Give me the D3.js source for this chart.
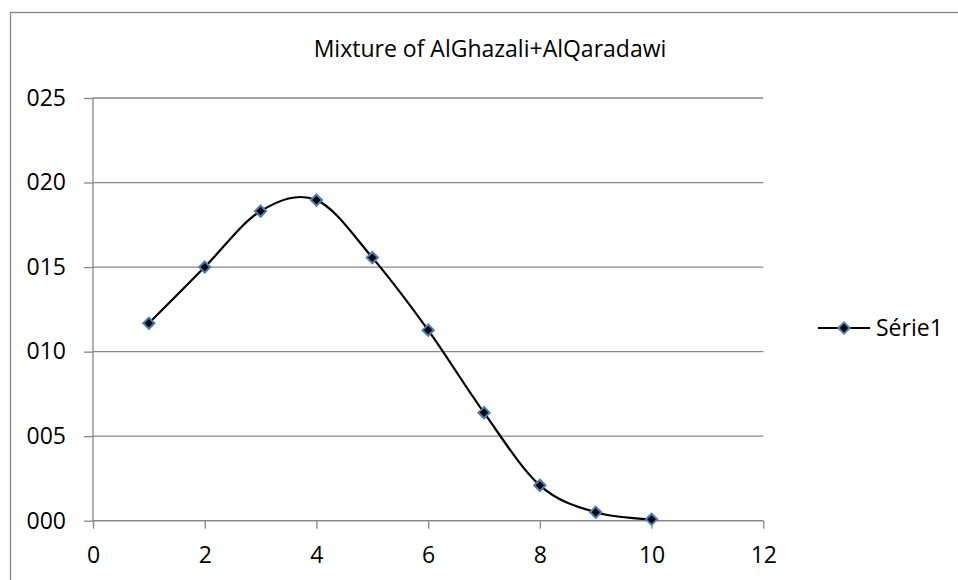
<!DOCTYPE html>
<html>
<head>
<meta charset="utf-8">
<script src="https://cdn.jsdelivr.net/npm/d3@7"></script>
<style>
  body { margin: 0; background: #fff; }
  svg { display: block; }
  text { font-family: "Open Sans", "Noto Sans", sans-serif; fill: #000; }
</style>
</head>
<body>
<svg id="chart"></svg>
<script>
const title = "Mixture of AlGhazali+AlQaradawi";
const seriesName = "Série1";
const xValues = [1, 2, 3, 4, 5, 6, 7, 8, 9, 10];
const yValues = [11.68, 15.0, 18.31, 18.96, 15.56, 11.27, 6.39, 2.09, 0.5, 0.08];
const xTicks = [0, 2, 4, 6, 8, 10, 12];
const yTicks = [0, 5, 10, 15, 20, 25];

const width = 958;
const height = 580;
const plotLeft = 93;
const plotRight = 763.3;
const plotTop = 98;
const plotBottom = 520.7;
const gray = "#868686";
const fontSize = "23px";

const svg = d3.select("#chart")
  .attr("width", width)
  .attr("height", height);

const data = xValues.map((x, i) => ({ x: x, y: yValues[i] }));

const xScale = d3.scaleLinear().domain([0, 12]).range([plotLeft, plotRight]);
const yScale = d3.scaleLinear().domain([0, 25]).range([plotBottom, plotTop]);

// outer chart border (right and bottom sides fall outside the picture)
svg.append("rect")
  .attr("x", 10.5)
  .attr("y", 12.5)
  .attr("width", width + 10)
  .attr("height", height + 10)
  .attr("fill", "none")
  .attr("stroke", gray)
  .attr("stroke-width", 1.3);

svg.append("text")
  .attr("x", 490)
  .attr("y", 57)
  .attr("text-anchor", "middle")
  .style("font-size", fontSize)
  .text(title);

// gridlines
svg.append("g")
  .selectAll("line")
  .data(yTicks)
  .enter()
  .append("line")
  .attr("x1", plotLeft)
  .attr("x2", plotRight)
  .attr("y1", (d) => yScale(d))
  .attr("y2", (d) => yScale(d))
  .attr("stroke", gray)
  .attr("stroke-width", 1.3);

const yAxis = d3.axisLeft(yScale)
  .tickValues(yTicks)
  .tickSize(9)
  .tickPadding(18)
  .tickFormat((d) => d3.format("03d")(d));

const gy = svg.append("g")
  .attr("transform", "translate(" + plotLeft + ",0)")
  .call(yAxis);

const xAxis = d3.axisBottom(xScale)
  .tickValues(xTicks)
  .tickSize(8)
  .tickPadding(18)
  .tickFormat((d) => d);

const gx = svg.append("g")
  .attr("transform", "translate(0," + plotBottom + ")")
  .call(xAxis);

[gx, gy].forEach((g) => {
  g.select(".domain").attr("stroke", gray).attr("stroke-width", 1.3);
  g.selectAll(".tick line").attr("stroke", gray).attr("stroke-width", 1.3);
  g.selectAll(".tick text")
    .style("font-family", "'Open Sans', 'Noto Sans', sans-serif")
    .style("font-size", fontSize)
    .attr("fill", "#000");
});
gx.select(".domain").attr("d", "M" + plotLeft + ",0H" + plotRight);
gy.select(".domain").attr("d", "M0," + plotTop + "V" + plotBottom);

const line = d3.line()
  .x((d) => xScale(d.x))
  .y((d) => yScale(d.y))
  .curve(d3.curveCatmullRom.alpha(0));

svg.append("path")
  .datum(data)
  .attr("d", line)
  .attr("fill", "none")
  .attr("stroke", "#000")
  .attr("stroke-width", 2.2);

const diamond = d3.symbol().type(d3.symbolDiamond2).size(80);

svg.append("g")
  .selectAll("path")
  .data(data)
  .enter()
  .append("path")
  .attr("d", diamond)
  .attr("transform", (d) => "translate(" + xScale(d.x) + "," + yScale(d.y) + ")")
  .attr("fill", "#000")
  .attr("stroke", "#4a7ebb")
  .attr("stroke-width", 2);

// legend
const legend = svg.append("g").attr("transform", "translate(818,328)");
legend.append("line")
  .attr("x1", 0)
  .attr("x2", 52)
  .attr("stroke", "#000")
  .attr("stroke-width", 2.2);
legend.append("path")
  .attr("d", diamond)
  .attr("transform", "translate(26,0)")
  .attr("fill", "#000")
  .attr("stroke", "#4a7ebb")
  .attr("stroke-width", 2);
legend.append("text")
  .attr("x", 58)
  .attr("y", 8)
  .style("font-size", fontSize)
  .text(seriesName);
</script>
</body>
</html>
